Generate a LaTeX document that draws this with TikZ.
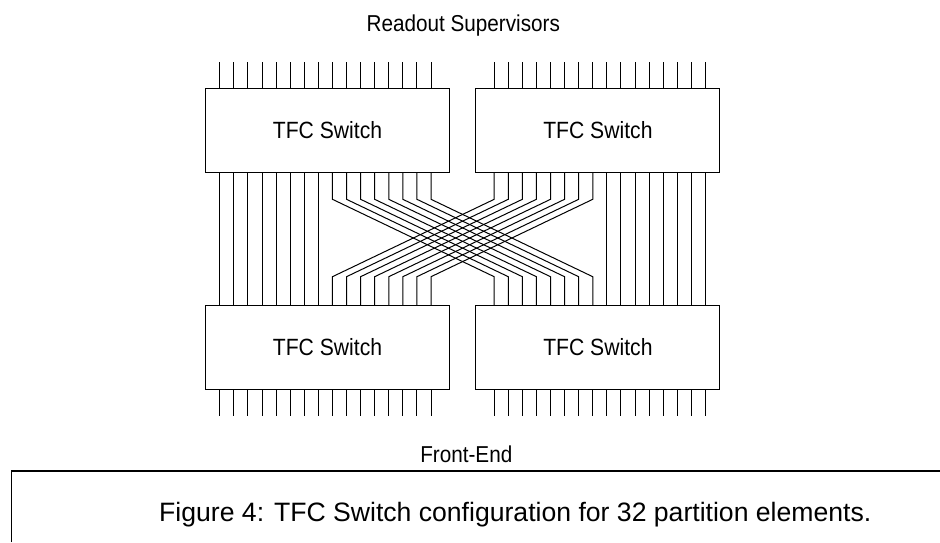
\documentclass[tikz,border=0pt]{standalone}
\usepackage{fontspec}
\setmainfont{Liberation Sans}
\newfontfamily\narrowsans[FakeStretch=0.9]{Liberation Sans}
\usetikzlibrary{calc}

\begin{document}
\begin{tikzpicture}[x=1pt, y=-1pt,
  switchbox/.style={
    draw, line width=1pt, outer sep=0pt, inner sep=0pt,
    minimum width=244pt, minimum height=84pt,
    font=\narrowsans\fontsize{23.5}{27}\selectfont
  },
  sidetext/.style={font=\narrowsans\fontsize{23}{27}\selectfont, anchor=base, inner sep=0pt},
  wire/.style={line width=1pt},
  frame/.style={line width=1.4pt}
]
  \useasboundingbox (0,0) rectangle (940,542);

  \node[switchbox] (tl) at (327.5,130) {TFC Switch};
  \node[switchbox] (tr) at (597.9,130) {TFC Switch};
  \node[switchbox] (bl) at (327.5,347) {TFC Switch};
  \node[switchbox] (br) at (597.9,347) {TFC Switch};

  \node[sidetext] (readout)  at (463.3,31.7)  {Readout Supervisors};
  \node[sidetext] (frontend) at (466.3,462.7) {Front-End};

  % outer pins
  \foreach \k in {0,...,15} {
    \draw[wire] ([xshift={14.3+14.08*\k}]tl.north west) -- ++(0,-26);
    \draw[wire] ([xshift={18.3+14.08*\k}]tr.north west) -- ++(0,-26);
    \draw[wire] ([xshift={14.3+14.08*\k}]bl.south west) -- ++(0,27);
    \draw[wire] ([xshift={18.3+14.08*\k}]br.south west) -- ++(0,27);
  }

  % straight and crossed links
  \foreach \k in {0,...,7} {
    \draw[wire] ([xshift={14.3+14.08*\k}]tl.south west) -- ([xshift={14.3+14.08*\k}]bl.north west);
    \draw[wire] ([xshift={18.3+14.08*(\k+8)}]tr.south west) -- ([xshift={18.3+14.08*(\k+8)}]br.north west);
    \draw[wire] ([xshift={14.3+14.08*(\k+8)}]tl.south west) -- ++(0,27.3)
      -- ([xshift={18.3+14.08*\k}, yshift=28.3]br.north west) -- ([xshift={18.3+14.08*\k}]br.north west);
    \draw[wire] ([xshift={18.3+14.08*\k}]tr.south west) -- ++(0,27.3)
      -- ([xshift={14.3+14.08*(\k+8)}, yshift=28.3]bl.north west) -- ([xshift={14.3+14.08*(\k+8)}]bl.north west);
  }

  \node[anchor=base, inner sep=0pt, font=\fontsize{26.6}{30}\selectfont] (caption) at (515.3,521.7)
    {Figure 4: TFC Switch configuration for 32 partition elements.};
  \draw[frame] (11.7,542) |- (940,471);
\end{tikzpicture}
\end{document}
